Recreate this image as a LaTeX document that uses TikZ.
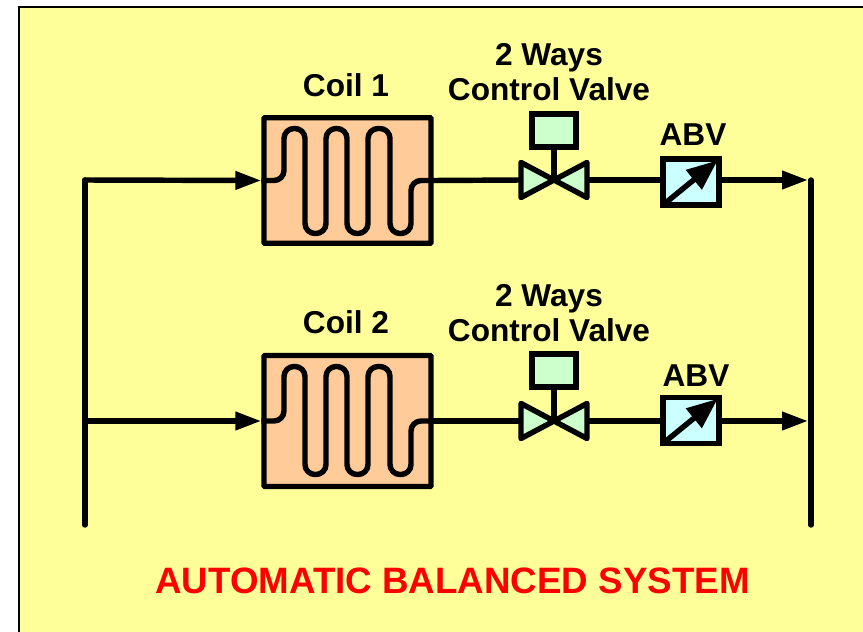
\documentclass[tikz,border=0pt]{standalone}
\usepackage{fontspec}
\setmainfont{Liberation Sans}
\usetikzlibrary{arrows.meta}
\definecolor{panelyellow}{HTML}{FFFF99}
\definecolor{coilorange}{HTML}{FFCC99}
\definecolor{valvegreen}{HTML}{CCFFCC}
\definecolor{abvblue}{HTML}{CCFFFF}
\tikzset{
  pipe/.style={line width=3.1pt,line cap=round,line join=round},
  flow/.style={pipe,-{Triangle[length=14.8pt,width=10pt]}},
  coilbox/.style={draw,line width=3.1pt,fill=coilorange,rounded corners=0.5pt,inner sep=0pt,minimum width=3.34cm},
  actuator/.style={draw,line width=3.1pt,fill=valvegreen,inner sep=0pt,minimum width=0.88cm,minimum height=0.66cm},
  abvbox/.style={draw,line width=3.1pt,fill=abvblue,inner sep=0pt,minimum width=1.12cm,minimum height=0.92cm},
  label/.style={font=\bfseries\fontsize{18}{20.2}\selectfont,align=center,inner sep=0pt},
}
\begin{document}
\begin{tikzpicture}[x=0.02cm,y=-0.02cm]
  \useasboundingbox (0,0) rectangle (863,632);
  \fill[panelyellow] (19,7) rectangle (863,632);
  \draw[line width=1pt] (19,632)--(19,7)--(863,7);

  \coordinate (topin) at (85,180);
  \coordinate (topout) at (811,180);
  \coordinate (botin) at (85,421);
  \coordinate (botout) at (811,421);
  \coordinate (leftend) at (85,525);
  \coordinate (rightend) at (811,525);

  \node[coilbox,minimum height=2.51cm] (coila) at (347.5,180.5) {};
  \node[coilbox,minimum height=2.62cm] (coilb) at (347.5,421) {};
  \node[actuator] (acta) at (554,130.5) {};
  \node[actuator] (actb) at (554,370.5) {};
  \node[abvbox] (abva) at (691,182) {};
  \node[abvbox] (abvb) at (691,420.5) {};
  \coordinate (valvea) at (554,180);
  \coordinate (valveb) at (554,421);

  \draw[pipe] (topin)--(leftend);
  \draw[pipe] (topout)--(rightend);

  % upper and lower branch
  \foreach\Coil/\Act/\Abv/\Valve/\In/\Out/\Top/\Bot in {
    coila/acta/abva/valvea/topin/topout/128.5/233.5,
    coilb/actb/abvb/valveb/botin/botout/366.5/474.5}{
    \path (\Valve) +(-33,0) coordinate (vl) +(33,0) coordinate (vr);
    \draw[flow] (\In)--(\Coil.west);
    \draw[pipe] (\Coil.east)--(vl);
    \draw[pipe] (vr)--(\Abv.west |- \Valve);
    \draw[flow,shorten >=1.7pt] (\Abv.east |- \Valve)--(\Out);
    \draw[pipe] (\Act.south)--(\Valve);
    \draw[pipe,fill=valvegreen] (\Valve)--++(-33,-17.5)--++(0,35)--cycle;
    \draw[pipe,fill=valvegreen] (\Valve)--++(33,-17.5)--++(0,35)--cycle;
    % serpentine
    \draw[pipe,line cap=butt,rounded corners=0.2cm] (\Coil.west)
      -|(284,\Top)--(305,\Top)--(305,\Bot)--(326,\Bot)--(326,\Top)
      --(347,\Top)--(347,\Bot)--(368,\Bot)--(368,\Top)--(390,\Top)
      --(390,\Bot)--(411,\Bot)|-(\Coil.east);
    \draw[pipe,-{Triangle[length=17.6pt,width=13.7pt]}] ([shift={(3,-3)}]\Abv.south west)--([shift={(-4,4)}]\Abv.north east);
  }

  \node[label] (coilalabel) at (346,85) {Coil 1};
  \node[label] (coilblabel) at (346,322) {Coil 2};
  \node[label] (valvealabel) at (549,72) {2 Ways\\Control Valve};
  \node[label] (valveblabel) at (549,313) {2 Ways\\Control Valve};
  \node[label] (abvalabel) at (693,135) {ABV};
  \node[label] (abvblabel) at (696,376) {ABV};
  \node[font=\bfseries\fontsize{20.9}{24}\selectfont,text=red,inner sep=0pt] (title) at (452.5,581) {AUTOMATIC BALANCED SYSTEM};
\end{tikzpicture}
\end{document}
